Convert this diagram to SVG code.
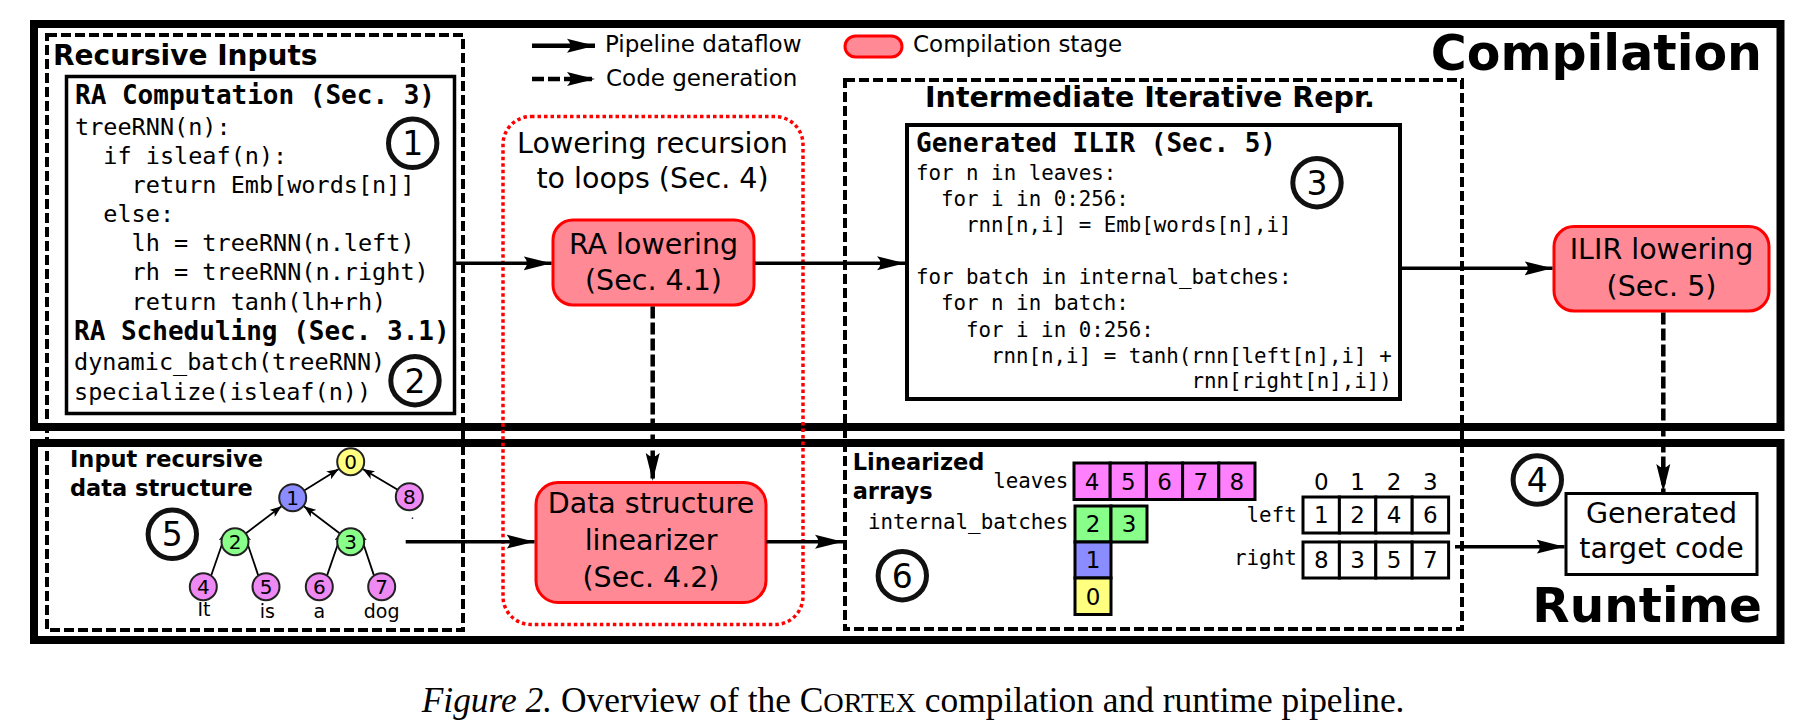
<svg xmlns="http://www.w3.org/2000/svg" width="1798" height="726" viewBox="0 0 1798 726">
<defs>
<style>
.sans{font-family:"DejaVu Sans","Liberation Sans",sans-serif}
.mono{font-family:"DejaVu Sans Mono","Liberation Mono",monospace}
.b{font-weight:bold}
.mid{text-anchor:middle}
.end{text-anchor:end}
.frame{fill:none;stroke:#000;stroke-width:8}
.dash{fill:none;stroke:#000;stroke-width:4;stroke-dasharray:10 4}
.dot{fill:none;stroke:#ff0000;stroke-width:3.5;stroke-dasharray:3.5 3}
.box{fill:#fff;stroke:#000;stroke-width:3.5}
.stage{fill:#ff8a95;stroke:#ff0000;stroke-width:3}
.num{fill:none;stroke:#111;stroke-width:5}
.flow{fill:none;stroke:#000;stroke-width:3.5;marker-end:url(#ah)}
.gen{fill:none;stroke:#000;stroke-width:4.5;stroke-dasharray:12 4;marker-end:url(#ah)}
.edge{fill:none;stroke:#000;stroke-width:1.8;marker-end:url(#th)}
.tn{stroke:#222;stroke-width:2}
.cell{stroke:#000;stroke-width:3}
.yel{fill:#ffff80}.blu{fill:#8a8cff}.grn{fill:#88ff88}.pnk{fill:#ee88f2}.cpk{fill:#ff80ff}
</style>
<marker id="ah" viewBox="0 0 28 16" refX="28" refY="8" markerWidth="28" markerHeight="16" markerUnits="userSpaceOnUse" orient="auto"><path d="M0,1 L28,8 L0,15 Q7,8 0,1 Z" fill="#000"/></marker>
<marker id="th" viewBox="0 0 12 9" refX="12" refY="4.5" markerWidth="12" markerHeight="9" markerUnits="userSpaceOnUse" orient="auto"><path d="M0,0 L12,4.5 L0,9 L3,4.5 Z" fill="#000"/></marker>
</defs>
<rect width="1798" height="726" fill="#fff"/>

<g id="compilation-frame">
<rect class="frame" x="34" y="24" width="1746.5" height="403"/>
<text class="sans b end" x="1762" y="70" font-size="49">Compilation</text>
</g>
<g id="runtime-frame">
<rect class="frame" x="34" y="443" width="1746.5" height="197"/>
<text class="sans b end" x="1762" y="621.7" font-size="48.5">Runtime</text>
</g>

<g id="legend">
<path class="flow" d="M532,45.7 H595" style="stroke-width:4.5"/>
<text class="sans" x="605" y="52.3" font-size="23">Pipeline dataflow</text>
<path class="gen" d="M532,79 H595"/>
<text class="sans" x="606" y="86" font-size="23">Code generation</text>
<rect class="stage" x="845" y="36" width="57" height="21" rx="10.5"/>
<text class="sans" x="913" y="52" font-size="23">Compilation stage</text>
</g>

<g id="recursive-inputs">
<rect class="dash" x="47" y="35" width="416" height="595"/>
<text class="sans b" x="53" y="65" font-size="28">Recursive Inputs</text>
</g>

<g id="ra-program">
<rect class="box" x="66.5" y="76.5" width="388" height="337"/>
<text class="mono b" x="75" y="104" font-size="26">RA Computation (Sec. 3)</text>
<g class="mono" font-size="23.5">
<text x="75" y="135">treeRNN(n):</text>
<text x="103.3" y="164.3">if isleaf(n):</text>
<text x="131.6" y="193.3">return Emb[words[n]]</text>
<text x="103.3" y="221.7">else:</text>
<text x="131.6" y="250.7">lh = treeRNN(n.left)</text>
<text x="131.6" y="280">rh = treeRNN(n.right)</text>
<text x="131.6" y="310">return tanh(lh+rh)</text>
<text x="74" y="370">dynamic_batch(treeRNN)</text>
<text x="74" y="400">specialize(isleaf(n))</text>
</g>
<text class="mono b" x="74" y="340" font-size="26">RA Scheduling (Sec. 3.1)</text>
</g>

<g id="marker-1"><circle class="num" cx="412.7" cy="143.3" r="24.2"/><text class="sans mid" x="412.7" y="155.3" font-size="33">1</text></g>
<g id="marker-2"><circle class="num" cx="415" cy="380.7" r="24.2"/><text class="sans mid" x="415" y="392.7" font-size="33">2</text></g>

<g id="lowering-group">
<rect class="dot" x="503" y="116.5" width="300" height="508" rx="28"/>
<text class="sans mid" x="652.5" y="153" font-size="28.5">Lowering recursion</text>
<text class="sans mid" x="652.5" y="188" font-size="28.5">to loops (Sec. 4)</text>
</g>

<g id="ra-lowering">
<rect class="stage" x="553" y="220" width="201" height="85" rx="20"/>
<text class="sans mid" x="653.5" y="254" font-size="28.5">RA lowering</text>
<text class="sans mid" x="653.5" y="290" font-size="28.5">(Sec. 4.1)</text>
</g>

<g id="intermediate">
<rect class="dash" x="845" y="80" width="617" height="549"/>
<text class="sans b" x="925" y="107" font-size="28.5">Intermediate Iterative Repr.</text>
</g>

<g id="ilir-code">
<rect class="box" x="907" y="125" width="493" height="274" style="stroke-width:4"/>
<text class="mono b" x="916" y="151.7" font-size="26">Generated ILIR (Sec. 5)</text>
<g class="mono" font-size="20.8">
<text x="916" y="180">for n in leaves:</text>
<text x="941" y="205.7">for i in 0:256:</text>
<text x="966" y="231.7">rnn[n,i] = Emb[words[n],i]</text>
<text x="916" y="284">for batch in internal_batches:</text>
<text x="941" y="310">for n in batch:</text>
<text x="966" y="336.7">for i in 0:256:</text>
<text x="991" y="362.7">rnn[n,i] = tanh(rnn[left[n],i] +</text>
<text x="1191.5" y="388.3">rnn[right[n],i])</text>
</g>
</g>
<g id="marker-3"><circle class="num" cx="1317" cy="182.7" r="24.2"/><text class="sans mid" x="1317" y="194.7" font-size="33">3</text></g>

<g id="ilir-lowering">
<rect class="stage" x="1554" y="226.5" width="215" height="84.5" rx="20"/>
<text class="sans mid" x="1661.5" y="259" font-size="28.5">ILIR lowering</text>
<text class="sans mid" x="1661.5" y="296" font-size="28.5">(Sec. 5)</text>
</g>

<g id="input-tree">
<text class="sans b" x="70" y="466.7" font-size="22.5">Input recursive</text>
<text class="sans b" x="70" y="496" font-size="22.5">data structure</text>
<g id="tree-edges">
<path class="edge" d="M304.2,490.6 L338.8,469.1"/>
<path class="edge" d="M397.7,489.8 L362.7,468.9"/>
<path class="edge" d="M245.7,533.5 L281.6,506.2"/>
<path class="edge" d="M339.9,533.5 L303.9,506.2"/>
<path class="edge" d="M211.1,575.7 L226.9,530.2"/>
<path class="edge" d="M258.3,575.6 L243,530.2"/>
<path class="edge" d="M327,575.6 L342.7,530.2"/>
<path class="edge" d="M374,575.6 L358.8,530.2"/>
</g>
<g class="sans mid" font-size="20">
<circle class="tn yel" cx="350.7" cy="461.7" r="13.5"/><text x="350.7" y="469">0</text>
<circle class="tn blu" cx="292.7" cy="497.7" r="13.5"/><text x="292.7" y="505">1</text>
<circle class="tn pnk" cx="409.3" cy="496.7" r="13.5"/><text x="409.3" y="504">8</text>
<circle class="tn grn" cx="235" cy="541.7" r="13.5"/><text x="235" y="549">2</text>
<circle class="tn grn" cx="350.7" cy="541.7" r="13.5"/><text x="350.7" y="549">3</text>
<circle class="tn pnk" cx="203.3" cy="586.7" r="13.5"/><text x="203.3" y="594">4</text>
<circle class="tn pnk" cx="266" cy="586.7" r="13.5"/><text x="266" y="594">5</text>
<circle class="tn pnk" cx="319.3" cy="586.7" r="13.5"/><text x="319.3" y="594">6</text>
<circle class="tn pnk" cx="381.7" cy="586.7" r="13.5"/><text x="381.7" y="594">7</text>
</g>
<g class="sans mid" font-size="19">
<text x="204" y="616">It</text>
<text x="267.3" y="618.3">is</text>
<text x="319.3" y="618.3">a</text>
<text x="381.7" y="618.3">dog</text>
<text x="412.5" y="519" font-size="12">.</text>
</g>
</g>
<g id="marker-5"><circle class="num" cx="172.3" cy="534.3" r="24.2"/><text class="sans mid" x="172.3" y="546.3" font-size="33">5</text></g>

<g id="linearizer">
<rect class="stage" x="536" y="482.5" width="230" height="120" rx="22"/>
<text class="sans mid" x="651" y="512.7" font-size="28.5">Data structure</text>
<text class="sans mid" x="651" y="550" font-size="28.5">linearizer</text>
<text class="sans mid" x="651" y="587.3" font-size="28.5">(Sec. 4.2)</text>
</g>

<g id="linearized-arrays">
<text class="sans b" x="852.7" y="470" font-size="22.5">Linearized</text>
<text class="sans b" x="852.7" y="499.3" font-size="22.5">arrays</text>
<g class="mono end" font-size="20.8">
<text x="1068.3" y="488.3">leaves</text>
<text x="1068.3" y="529.3">internal_batches</text>
<text x="1296.7" y="521.7">left</text>
<text x="1296.7" y="565">right</text>
</g>
<g id="leaves-array">
<rect class="cell cpk" x="1074" y="463" width="36.2" height="36.5"/>
<rect class="cell cpk" x="1110.2" y="463" width="36.2" height="36.5"/>
<rect class="cell cpk" x="1146.4" y="463" width="36.2" height="36.5"/>
<rect class="cell cpk" x="1182.6" y="463" width="36.2" height="36.5"/>
<rect class="cell cpk" x="1218.8" y="463" width="36.2" height="36.5"/>
</g>
<g id="batches-array">
<rect class="cell grn" x="1075" y="506" width="36" height="36"/>
<rect class="cell grn" x="1111" y="506" width="36" height="36"/>
<rect class="cell blu" x="1075" y="542" width="36" height="36"/>
<rect class="cell yel" x="1075" y="578" width="36" height="36.5"/>
</g>
<g id="left-right-arrays" fill="#fff">
<rect class="cell" x="1303" y="497" width="36.4" height="36"/>
<rect class="cell" x="1339.4" y="497" width="36.4" height="36"/>
<rect class="cell" x="1375.8" y="497" width="36.4" height="36"/>
<rect class="cell" x="1412.2" y="497" width="36.4" height="36"/>
<rect class="cell" x="1303" y="542" width="36.4" height="36"/>
<rect class="cell" x="1339.4" y="542" width="36.4" height="36"/>
<rect class="cell" x="1375.8" y="542" width="36.4" height="36"/>
<rect class="cell" x="1412.2" y="542" width="36.4" height="36"/>
</g>
<g class="sans mid" font-size="23">
<text x="1092.1" y="489.5">4</text><text x="1128.3" y="489.5">5</text><text x="1164.5" y="489.5">6</text><text x="1200.7" y="489.5">7</text><text x="1236.9" y="489.5">8</text>
<text x="1093" y="532.3">2</text><text x="1129" y="532.3">3</text>
<text x="1093" y="568.3">1</text><text x="1093" y="604.5">0</text>
<text x="1321.2" y="490">0</text><text x="1357.6" y="490">1</text><text x="1394" y="490">2</text><text x="1430.4" y="490">3</text>
<text x="1321.2" y="523.3">1</text><text x="1357.6" y="523.3">2</text><text x="1394" y="523.3">4</text><text x="1430.4" y="523.3">6</text>
<text x="1321.2" y="568.3">8</text><text x="1357.6" y="568.3">3</text><text x="1394" y="568.3">5</text><text x="1430.4" y="568.3">7</text>
</g>
</g>
<g id="marker-6"><circle class="num" cx="902.3" cy="575.7" r="24.2"/><text class="sans mid" x="902.3" y="587.7" font-size="33">6</text></g>

<g id="target-code">
<rect class="box" x="1566" y="493.5" width="191" height="81" style="stroke-width:3"/>
<text class="sans mid" x="1661.5" y="523.3" font-size="28.5">Generated</text>
<text class="sans mid" x="1661.5" y="558.3" font-size="28.5">target code</text>
</g>
<g id="marker-4"><circle class="num" cx="1537.3" cy="480" r="24.2"/><text class="sans mid" x="1537.3" y="492" font-size="33">4</text></g>

<g id="connectors">
<path class="flow" d="M455,263.3 H551.5"/>
<path class="flow" d="M755,263.3 H905"/>
<path class="flow" d="M1402,268.3 H1552.5"/>
<path class="gen" d="M652.7,306.5 V481"/>
<path class="gen" d="M1663.3,312.5 V492"/>
<path class="flow" d="M405.7,541.7 H534.5"/>
<path class="flow" d="M766.5,541.7 H843"/>
<path class="flow" d="M1455,546.7 H1564.5"/>
</g>

<g id="caption">
<text x="421.7" y="712" font-family="'Liberation Serif','Times New Roman',serif" font-size="35.4"><tspan font-style="italic">Figure 2.</tspan> Overview of the C<tspan font-size="28.3">ORTEX</tspan> compilation and runtime pipeline.</text>
</g>
</svg>
